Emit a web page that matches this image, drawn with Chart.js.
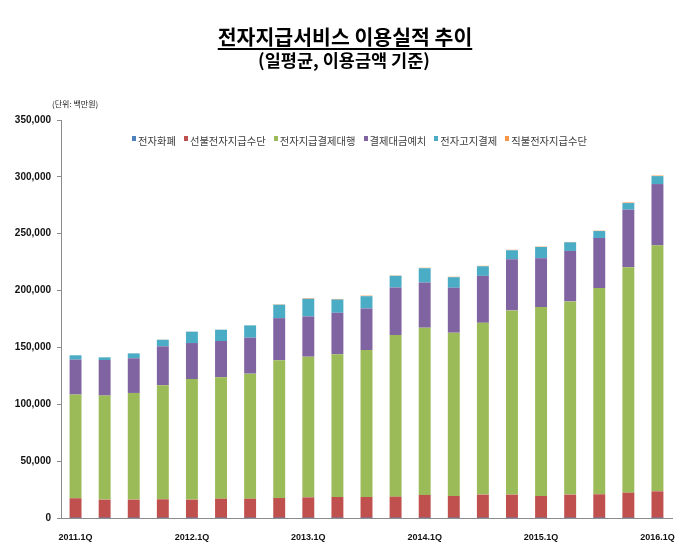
<!DOCTYPE html>
<html>
<head>
<meta charset="utf-8">
<script src="https://cdn.jsdelivr.net/npm/chart.js@4.4.1/dist/chart.umd.min.js"></script>
<style>
  body { margin: 0; background: #fff; }
  #wrap { position: relative; width: 700px; height: 545px; font-family: "Noto Sans CJK KR", sans-serif; }
  #title { position: absolute; left: 0; width: 690px; top: 21px; text-align: center; font-size: 20.5px; font-weight: bold; color: #000; }
  #title span { text-decoration: underline; text-underline-offset: 3px; }
  #subtitle { position: absolute; left: 0; width: 688px; top: 47px; text-align: center; font-size: 17.5px; font-weight: bold; color: #000; }
  #unit { position: absolute; left: 52px; top: 98px; font-size: 8px; color: #222; }
  #legend { position: absolute; left: 132px; top: 133px; font-size: 10.3px; color: #404040; white-space: nowrap; }
  #legend .item { display: inline-block; margin-right: 8px; }
  #legend .box { display: inline-block; width: 4px; height: 5px; margin-right: 2px; vertical-align: 4px; }
  canvas { position: absolute; left: 0; top: 0; }
</style>
</head>
<body>
<div id="wrap">
  <canvas id="chart" width="700" height="545"></canvas>
  <div id="title"><span>전자지급서비스 이용실적 추이</span></div>
  <div id="subtitle">(일평균, 이용금액 기준)</div>
  <div id="unit">(단위: 백만원)</div>
  <div id="legend"></div>
</div>
<script>
// Quarters on the x axis
const quarters = [
  "2011.1Q", "2011.2Q", "2011.3Q", "2011.4Q",
  "2012.1Q", "2012.2Q", "2012.3Q", "2012.4Q",
  "2013.1Q", "2013.2Q", "2013.3Q", "2013.4Q",
  "2014.1Q", "2014.2Q", "2014.3Q", "2014.4Q",
  "2015.1Q", "2015.2Q", "2015.3Q", "2015.4Q",
  "2016.1Q"
];

// Series values (백만원)
const eMoney = [60, 60, 60, 60, 60, 60, 60, 60, 60, 60, 60, 60, 60, 60, 60, 60, 60, 60, 60, 60, 60];
const prepaid = [17300, 16100, 16100, 16400, 16100, 16900, 16900, 17500, 18100, 18400, 18400, 18700, 20200, 19300, 20500, 20500, 19300, 20500, 20800, 22200, 23400];
const pg = [91200, 91500, 93800, 100300, 106100, 106800, 110000, 121100, 123700, 125500, 129200, 142100, 147100, 143600, 151100, 162000, 166100, 169900, 181300, 198300, 216300];
const escrow = [30700, 31300, 30500, 34200, 31600, 31900, 31600, 37100, 35400, 36500, 36600, 41800, 39700, 39500, 41300, 45000, 43000, 44400, 44100, 50600, 53900];
const ebpp = [3800, 2300, 4300, 5800, 10000, 9900, 10800, 11800, 15500, 11700, 10800, 10300, 12600, 9300, 8400, 7900, 9900, 7600, 6100, 5800, 7000];
const debit = [100, 100, 100, 100, 100, 100, 100, 300, 500, 500, 500, 300, 400, 400, 400, 400, 300, 300, 300, 500, 500];

// Tick labels shown under the x axis
const shownLabels = ["2011.1Q", "2012.1Q", "2013.1Q", "2014.1Q", "2015.1Q", "2016.1Q"];

const seriesNames = ["전자화폐", "선불전자지급수단", "전자지급결제대행", "결제대금예치", "전자고지결제", "직불전자지급수단"];
const seriesColors = ["#4F81BD", "#C0504D", "#9BBB59", "#8064A2", "#4BACC6", "#F79646"];
const seriesData = [eMoney, prepaid, pg, escrow, ebpp, debit];

const datasets = seriesNames.map((name, i) => ({
  label: name,
  data: seriesData[i],
  backgroundColor: seriesColors[i],
  barPercentage: 0.41,
  categoryPercentage: 1.0,
  stack: "s"
}));

// Build the legend from the same names and colors
const legendEl = document.getElementById("legend");
seriesNames.forEach((name, i) => {
  const item = document.createElement("span");
  item.className = "item";
  item.innerHTML = `<span class="box" style="background:${seriesColors[i]}"></span>${name}`;
  legendEl.appendChild(item);
});

const tickFont = { family: "'Liberation Sans Narrow', 'Liberation Sans', Arial, sans-serif", size: 10, weight: "bold" };

new Chart(document.getElementById("chart"), {
  type: "bar",
  data: { labels: quarters, datasets },
  options: {
    responsive: false,
    animation: false,
    layout: { padding: { top: 120, right: 28, left: 0, bottom: 0 } },
    plugins: {
      legend: { display: false },
      title: { display: false },
      tooltip: { enabled: false }
    },
    scales: {
      x: {
        stacked: true,
        grid: { display: false },
        border: { color: "#8c8c8c", width: 1 },
        ticks: {
          autoSkip: false,
          maxRotation: 0,
          color: "#111",
          font: { ...tickFont, size: 9 },
          padding: 6,
          callback: function (val) {
            const lab = this.getLabelForValue(val);
            return shownLabels.includes(lab) ? lab : "";
          }
        },
        afterFit: (axis) => { axis.height = 27; }
      },
      y: {
        stacked: true,
        min: 0,
        max: 350000,
        grid: { drawOnChartArea: false, drawTicks: true, tickLength: 4, color: "#8c8c8c" },
        border: { color: "#8c8c8c", width: 1 },
        ticks: {
          stepSize: 50000,
          color: "#111",
          font: tickFont,
          padding: 6,
          callback: (v) => v.toLocaleString("en-US")
        },
        afterFit: (axis) => { axis.width = 61; }
      }
    }
  }
});
</script>
</body>
</html>
